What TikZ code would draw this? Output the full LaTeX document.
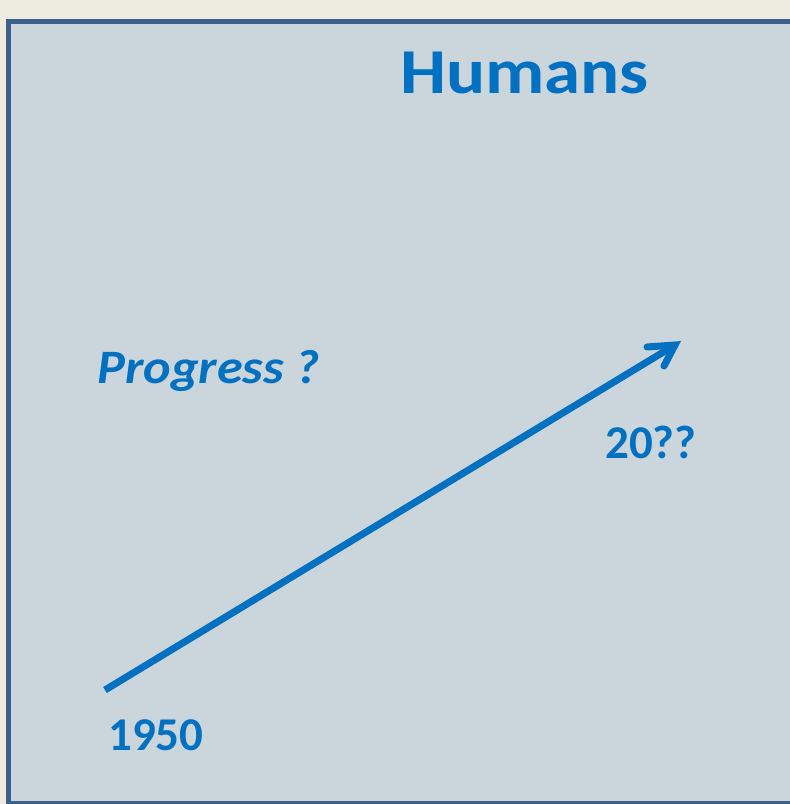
\documentclass[tikz,border=0pt]{standalone}
\usepackage{fontspec}
\setmainfont{Carlito}
\definecolor{pagebg}{HTML}{EEECE1}
\definecolor{panelbg}{HTML}{CBD5DC}
\definecolor{panelline}{HTML}{3D5F8A}
\definecolor{txtblue}{HTML}{0070C0}
\tikzset{
  lbl/.style={text=txtblue, font=\bfseries, inner sep=0pt, anchor=base west},
  shaft/.style={draw=txtblue, line width=7pt},
  barb/.style={draw=txtblue, line width=7pt, line cap=round, line join=miter}
}
\begin{document}
\begin{tikzpicture}[x=1pt,y=-1pt]
\useasboundingbox (0,0) rectangle (790,804);
\fill[pagebg] (0,0) rectangle (790,804);
\filldraw[fill=panelbg, draw=panelline, line width=5pt] (8.5,21.5) rectangle (800,803);
\node[lbl, font=\bfseries\fontsize{64}{70}\selectfont, xscale=1.14] (title) at (400,93) {Humans};
\node[lbl, font=\bfseries\itshape\fontsize{48}{54}\selectfont, xscale=1.09] (prog) at (97,383) {Progress ?};
\node[lbl, font=\bfseries\fontsize{47}{52}\selectfont] (end) at (605,458) {20??};
\node[lbl, font=\bfseries\fontsize{47}{52}\selectfont] (start) at (108,750) {1950};
\coordinate (s) at (105,690);
\coordinate (t) at (675,345);
\coordinate (a1) at (647,347);
\coordinate (a2) at (664,366);
\draw[shaft] (s) -- (t);
\draw[barb] (a1) -- (t) -- (a2);
\end{tikzpicture}
\end{document}
